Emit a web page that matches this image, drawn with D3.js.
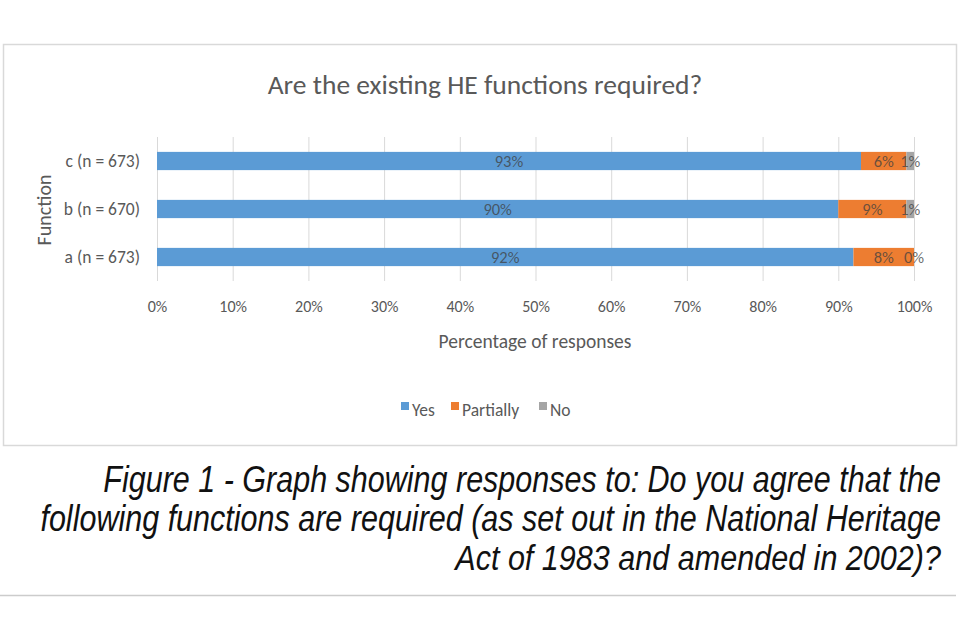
<!DOCTYPE html>
<html><head><meta charset="utf-8">
<script src="https://cdn.jsdelivr.net/npm/d3@7"></script>
<style>
html,body{margin:0;padding:0;background:#fff;}
svg{display:block;}
</style></head>
<body>
<svg id="c" width="960" height="640"></svg>
<script>
const title = "Are the existing HE functions required?";
const categories = ["c (n = 673)", "b (n = 670)", "a (n = 673)"];
const seriesNames = ["Yes", "Partially", "No"];
const yesValues = [93, 90, 92];
const partiallyValues = [6, 9, 8];
const noValues = [1, 1, 0];
const xTicks = [0, 10, 20, 30, 40, 50, 60, 70, 80, 90, 100];
const xAxisTitle = "Percentage of responses";
const yAxisTitle = "Function";
const captionLines = [
  "Figure 1 - Graph showing responses to: Do you agree that the",
  "following functions are required (as set out in the National Heritage",
  "Act of 1983 and amended in 2002)?"
];
const colors = ["#5B9BD5", "#ED7D31", "#A5A5A5"];

const svg = d3.select("#c");
const font = "Carlito, Calibri, Lato, 'Open Sans', sans-serif";
const textCol = "#595959";

// chart frame
svg.append("rect").attr("x", 3.5).attr("y", 44.5).attr("width", 953).attr("height", 401)
  .attr("fill", "#fff").attr("stroke", "#d9d9d9").attr("stroke-width", 1.5);

const x = d3.scaleLinear().domain([0, 100]).range([157, 914]);
const y = d3.scaleBand().domain(categories).range([137, 281]).paddingInner(0.62).paddingOuter(0.31);

// gridlines
svg.append("g").selectAll("line").data(xTicks).join("line")
  .attr("x1", d => x(d) + 0.5).attr("x2", d => x(d) + 0.5)
  .attr("y1", 137).attr("y2", 281)
  .attr("stroke", "#d9d9d9").attr("stroke-width", 1);

// stacked data
const rows = categories.map((c, i) => ({cat: c, Yes: yesValues[i], Partially: partiallyValues[i], No: noValues[i]}));
const stack = d3.stack().keys(seriesNames)(rows);

const g = svg.append("g");
stack.forEach((s, si) => {
  g.append("g").attr("fill", colors[si]).selectAll("rect").data(s).join("rect")
    .attr("x", d => x(d[0])).attr("width", d => x(d[1]) - x(d[0]))
    .attr("y", d => y(d.data.cat)).attr("height", y.bandwidth());
});
// data labels
stack.forEach((s, si) => {
  g.append("g").selectAll("text").data(s).join("text")
    .attr("x", d => (x(d[0]) + x(d[1])) / 2)
    .attr("y", d => y(d.data.cat) + y.bandwidth() / 2)
    .attr("dy", "0.36em").attr("text-anchor", "middle")
    .attr("font-family", font).attr("font-size", 16.5)
    .attr("fill", "#404040").attr("fill-opacity", 0.75)
    .text(d => (d[1] - d[0]) + "%");
});

// x axis tick labels
const xAxis = d3.axisBottom(x).tickValues(xTicks).tickFormat(d => d + "%").tickSize(0).tickPadding(0);
const xg = svg.append("g").attr("transform", "translate(0,301)").call(xAxis);
xg.select(".domain").remove();
xg.selectAll("text").attr("font-family", font).attr("font-size", 16).attr("fill", textCol).attr("dy", "0.71em");

// y axis labels
const yAxis = d3.axisLeft(y).tickSize(0).tickPadding(0);
const yg = svg.append("g").attr("transform", "translate(140,0)").call(yAxis);
yg.select(".domain").remove();
yg.selectAll("text").attr("font-family", font).attr("font-size", 17.5).attr("fill", textCol);

// titles
svg.append("text").attr("x", 485).attr("y", 94).attr("text-anchor", "middle")
  .attr("font-family", font).attr("font-size", 27.5).attr("fill", textCol).text(title);
svg.append("text").attr("x", 535).attr("y", 348).attr("text-anchor", "middle")
  .attr("font-family", font).attr("font-size", 19.5).attr("fill", textCol).text(xAxisTitle);
svg.append("text").attr("transform", "translate(51,210) rotate(-90)").attr("text-anchor", "middle")
  .attr("font-family", font).attr("font-size", 20).attr("fill", textCol).text(yAxisTitle);

// legend
const legendX = [401, 451, 539];
const lg = svg.append("g");
seriesNames.forEach((n, i) => {
  lg.append("rect").attr("x", legendX[i]).attr("y", 402).attr("width", 8).attr("height", 8).attr("fill", colors[i]);
  lg.append("text").attr("x", legendX[i] + 11).attr("y", 416).attr("font-family", font)
    .attr("font-size", 17.5).attr("fill", textCol).text(n);
});

// caption (horizontally condensed to the reference line widths)
const capRight = 941;
const capBase = [492, 531, 570];
const capWidth = [838, 901, 486];
captionLines.forEach((t, i) => {
  const txt = svg.append("text").attr("x", 0).attr("y", 0).attr("text-anchor", "end")
    .attr("font-family", "'Liberation Sans', Arial, sans-serif")
    .attr("font-style", "italic").attr("font-size", 36).attr("fill", "#111").text(t);
  const w = txt.node().getComputedTextLength();
  txt.attr("transform", `translate(${capRight},${capBase[i]}) scale(${capWidth[i] / w},1)`);
});

// bottom rule
svg.append("line").attr("x1", 0).attr("x2", 956).attr("y1", 595.5).attr("y2", 595.5)
  .attr("stroke", "#cccccc").attr("stroke-width", 1.5);
</script>
</body></html>
